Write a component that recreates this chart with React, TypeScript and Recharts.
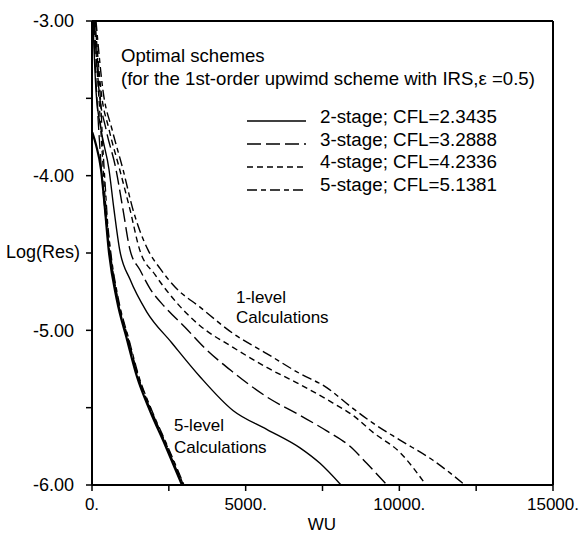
import React from 'react';
import { LineChart, Line, XAxis, YAxis, ReferenceLine } from 'recharts';

// ---- data (WU vs log10 residual) ----
const xTicks = [0, 2500, 5000, 7500, 10000, 12500, 15000];
const yTicks = [-6, -5.5, -5, -4.5, -4, -3.5, -3];

// 1-level calculations
const wu2L1 = [30, 130, 293, 553, 716, 901, 1237, 1780, 2593, 3515, 4598, 5685, 6768, 7419, 8102];
const res2L1 = [-3.0, -3.45, -3.7, -3.96, -4.22, -4.48, -4.67, -4.88, -5.08, -5.3, -5.52, -5.64, -5.76, -5.86, -6.0];

const wu3L1 = [65, 228, 456, 781, 1009, 1237, 1562, 1887, 2375, 3026, 3644, 4588, 5685, 6768, 7637, 8395, 8939, 9599];
const res3L1 = [-3.0, -3.45, -3.7, -3.96, -4.22, -4.48, -4.61, -4.73, -4.85, -4.98, -5.11, -5.27, -5.43, -5.55, -5.65, -5.75, -5.86, -6.0];

const wu4L1 = [98, 293, 553, 901, 1237, 1552, 2050, 2538, 3026, 3514, 4588, 5685, 6768, 7842, 8493, 9144, 10022, 10868];
const res4L1 = [-3.0, -3.45, -3.7, -3.96, -4.22, -4.48, -4.64, -4.77, -4.88, -4.97, -5.11, -5.24, -5.35, -5.47, -5.55, -5.66, -5.79, -6.0];

const wu5L1 = [130, 358, 651, 1009, 1334, 1822, 2213, 2701, 3514, 4588, 5685, 6768, 7637, 8395, 9144, 10022, 11096, 12137];
const res5L1 = [-3.0, -3.45, -3.7, -3.96, -4.22, -4.48, -4.6, -4.72, -4.85, -5.02, -5.15, -5.28, -5.37, -5.49, -5.6, -5.71, -5.84, -6.0];

// 5-level calculations
const wu2L5 = [10, 130, 293, 423, 543, 804, 1139, 1464, 1887, 2375, 2928];
const res2L5 = [-3.72, -3.8, -3.96, -4.22, -4.48, -4.8, -5.06, -5.3, -5.52, -5.74, -6.0];

const wu3L5 = [49, 98, 163, 260, 358, 456, 569, 830, 1171, 1497, 1920, 2408, 2961];
const res3L5 = [-3.0, -3.25, -3.51, -3.83, -4.09, -4.29, -4.48, -4.8, -5.06, -5.3, -5.52, -5.74, -6.0];

const wu4L5 = [81, 146, 228, 325, 407, 488, 586, 846, 1188, 1513, 1936, 2424, 2977];
const res4L5 = [-3.0, -3.25, -3.51, -3.83, -4.09, -4.29, -4.48, -4.8, -5.06, -5.3, -5.52, -5.74, -6.0];

const wu5L5 = [114, 179, 277, 358, 439, 504, 602, 862, 1204, 1529, 1952, 2440, 2993];
const res5L5 = [-3.0, -3.25, -3.51, -3.83, -4.09, -4.29, -4.48, -4.8, -5.06, -5.3, -5.52, -5.74, -6.0];

const legendLabels = [
  '2-stage; CFL=2.3435',
  '3-stage; CFL=3.2888',
  '4-stage; CFL=4.2336',
  '5-stage; CFL=5.1381',
];

const dashes = ['', '14 5', '6 4', '10 4 5 4'];

const toPts = (wu: number[], res: number[]) => wu.map((x, i) => ({ wu: x, res: res[i] }));

const series = [
  { key: 's2L1', data: toPts(wu2L1, res2L1), dash: dashes[0], w: 1.4 },
  { key: 's3L1', data: toPts(wu3L1, res3L1), dash: dashes[1], w: 1.4 },
  { key: 's4L1', data: toPts(wu4L1, res4L1), dash: dashes[2], w: 1.4 },
  { key: 's5L1', data: toPts(wu5L1, res5L1), dash: dashes[3], w: 1.4 },
  { key: 's3L5', data: toPts(wu3L5, res3L5), dash: dashes[1], w: 1.3 },
  { key: 's4L5', data: toPts(wu4L5, res4L5), dash: dashes[2], w: 1.3 },
  { key: 's5L5', data: toPts(wu5L5, res5L5), dash: dashes[3], w: 1.3 },
  { key: 's2L5', data: toPts(wu2L5, res2L5), dash: dashes[0], w: 2.2 },
];

const W = 583;
const H = 534;
const FONT = '"Liberation Sans", Arial, Helvetica, sans-serif';

export default function App() {
  const xTickStyle = { fill: '#000', fontSize: 17, fontFamily: FONT };
  const yTickStyle = { fill: '#000', fontSize: 18, fontFamily: FONT };
  return (
    <div style={{ position: 'absolute', left: 0, top: 0, width: W, height: H, background: '#fff' }}>
      <LineChart width={W} height={H} margin={{ top: 21, right: 30, bottom: 0, left: 0 }}>
        <XAxis
          dataKey="wu"
          type="number"
          domain={[0, 15000]}
          ticks={xTicks}
          allowDataOverflow
          height={49}
          tickSize={6}
          tickMargin={7}
          axisLine={{ stroke: '#000', strokeWidth: 2 }}
          tickLine={{ stroke: '#000', strokeWidth: 1.5 }}
          tick={xTickStyle}
          tickFormatter={(v: number) => (v % 5000 === 0 ? `${v}.` : '')}
          interval={0}
        />
        <YAxis
          type="number"
          domain={[-6, -3]}
          ticks={yTicks}
          allowDataOverflow
          width={92}
          tickSize={6}
          tickMargin={12}
          axisLine={{ stroke: '#000', strokeWidth: 2 }}
          tickLine={{ stroke: '#000', strokeWidth: 1.5 }}
          tick={yTickStyle}
          tickFormatter={(v: number) => (Number.isInteger(v) ? v.toFixed(2) : '')}
          interval={0}
        />
        <ReferenceLine y={-3} stroke="#000" strokeWidth={2} ifOverflow="visible" />
        <ReferenceLine x={15000} stroke="#000" strokeWidth={2} ifOverflow="visible" />
        {series.map((s) => (
          <Line
            key={s.key}
            data={s.data}
            dataKey="res"
            type="monotone"
            stroke="#000"
            strokeWidth={s.w}
            strokeDasharray={s.dash || undefined}
            dot={false}
            activeDot={false}
            isAnimationActive={false}
          />
        ))}
      </LineChart>
      <svg
        width={W}
        height={H}
        style={{ position: 'absolute', left: 0, top: 0, pointerEvents: 'none' }}
        fontFamily={FONT}
      >
        <text x={121} y={62} fontSize={18.6} fill="#000">Optimal schemes</text>
        <text x={121} y={85} fontSize={18.6} fill="#000">
          (for the 1st-order upwimd scheme with IRS,ε =0.5)
        </text>
        {legendLabels.map((lbl, i) => (
          <g key={lbl}>
            <line
              x1={247}
              x2={306}
              y1={121 + i * 23}
              y2={121 + i * 23}
              stroke="#000"
              strokeWidth={1.6}
              strokeDasharray={dashes[i] || undefined}
            />
            <text x={320} y={123 + i * 22.7} fontSize={18.8} fill="#000">{lbl}</text>
          </g>
        ))}
        <text x={236} y={303} fontSize={17} fill="#000">1-level</text>
        <text x={236} y={323} fontSize={17} fill="#000">Calculations</text>
        <text x={174} y={431} fontSize={17} fill="#000">5-level</text>
        <text x={174} y={453} fontSize={17} fill="#000">Calculations</text>
        <text x={80} y={258} fontSize={18} fill="#000" textAnchor="end">Log(Res)</text>
        <text x={322} y={530} fontSize={17} fill="#000" textAnchor="middle">WU</text>
      </svg>
    </div>
  );
}
